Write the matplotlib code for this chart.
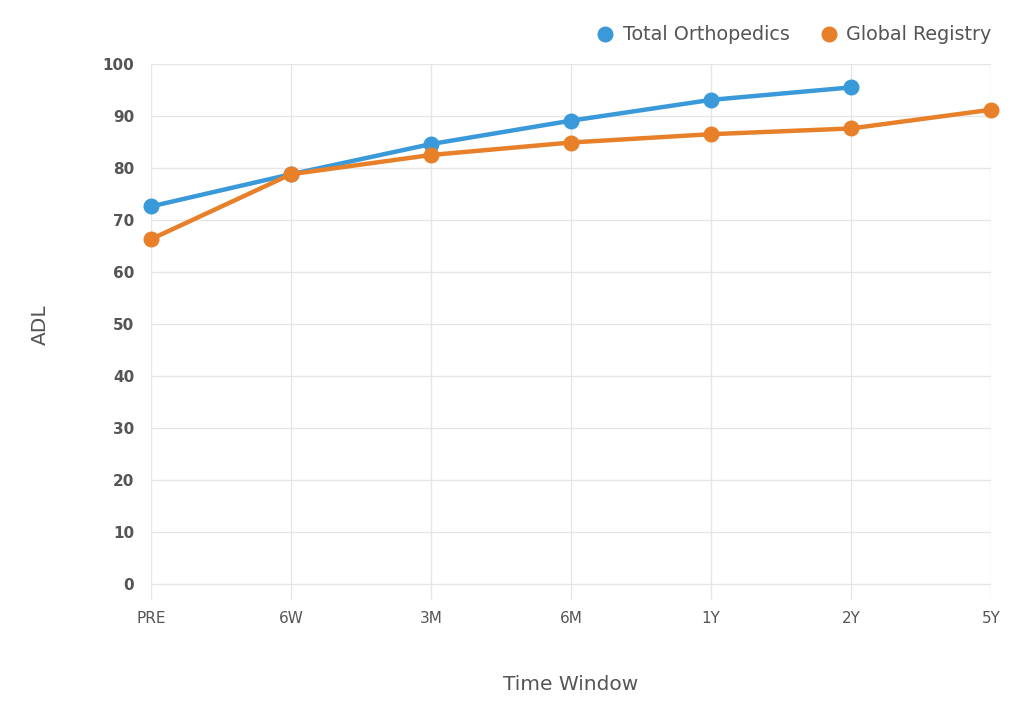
import matplotlib
matplotlib.use("Agg")
import matplotlib.pyplot as plt
from matplotlib.lines import Line2D

plt.rcParams["font.family"] = ["DejaVu Sans"]

categories = ["PRE", "6W", "3M", "6M", "1Y", "2Y", "5Y"]
total_ortho = [72.6, 78.8, 84.6, 89.1, 93.1, 95.5]
global_registry = [66.3, 78.8, 82.5, 84.9, 86.5, 87.6, 91.2]
yticks = [0, 10, 20, 30, 40, 50, 60, 70, 80, 90, 100]

blue = "#3a9ad9"
orange = "#e8802a"
txt = "#555555"

fig = plt.figure(figsize=(10.24, 7.25), dpi=100)
ax = fig.add_axes([151/1024, 1-600/725, 840/1024, 536/725])

x_all = list(range(len(categories)))
ax.plot(x_all[:len(total_ortho)], total_ortho, color=blue, lw=3.2, marker="o",
        ms=10.5, zorder=3, clip_on=False)
ax.plot(x_all, global_registry, color=orange, lw=3.2, marker="o",
        ms=10.5, zorder=3, clip_on=False)

ax.set_xlim(0, len(categories)-1)
ax.set_ylim(-3.1, 100)
ax.set_yticks(yticks)
ax.set_yticklabels([str(v) for v in yticks], fontweight="bold", color=txt, fontsize=11)
ax.set_xticks(x_all)
ax.set_xticklabels(categories, color=txt, fontsize=11)
ax.tick_params(axis="both", length=0)
ax.tick_params(axis="y", pad=12)
ax.tick_params(axis="x", pad=8)
for s in ax.spines.values():
    s.set_visible(False)
ax.grid(True, color="#e6e6e6", lw=1)
ax.set_axisbelow(True)

fig.text(40/1024, 1-325/725, "ADL", rotation=90, ha="center", va="center", color=txt, fontsize=14.5)
fig.text(571/1024, 1-685/725, "Time Window", ha="center", va="center", color=txt, fontsize=14.5)

handles = [Line2D([], [], color=blue, marker="o", ls="", ms=10.5),
           Line2D([], [], color=orange, marker="o", ls="", ms=10.5)]
fig.legend(handles, ["Total Orthopedics", "Global Registry"], loc="center right",
           bbox_to_anchor=(999/1024, 1-35/725), ncol=2, frameon=False,
           fontsize=13.8, labelcolor=txt, handletextpad=0.3, columnspacing=1.45,
           handlelength=1.2, borderaxespad=0)

fig.savefig("out.png", dpi=100, facecolor="white")
